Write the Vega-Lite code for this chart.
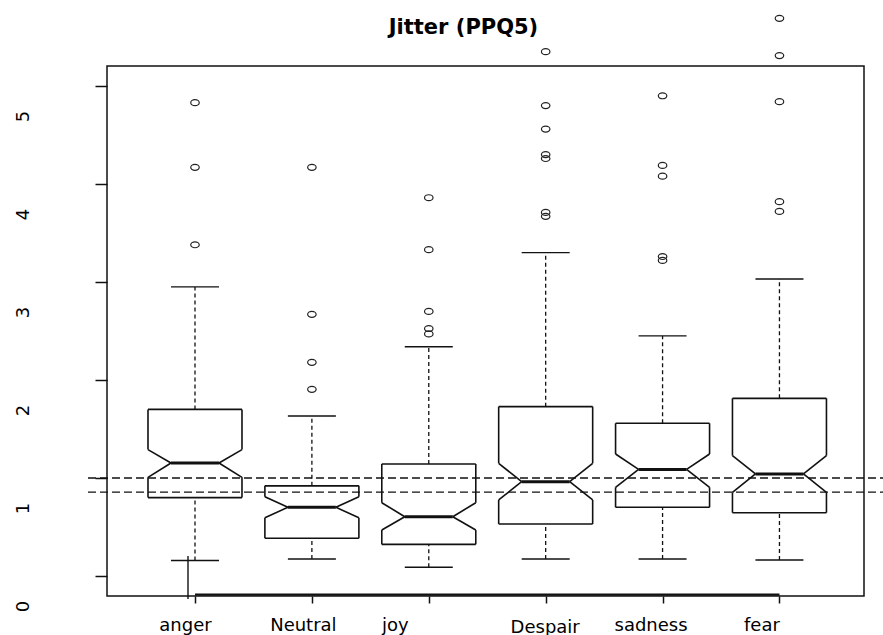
{
  "$schema": "https://vega.github.io/schema/vega-lite/v6.json",
  "width": 757,
  "height": 530,
  "autosize": {"type": "none"},
  "padding": {"left": 107, "top": 66, "right": 19, "bottom": 39},
  "background": "white",
  "config": {
    "font": "DejaVu Sans",
    "view": {"stroke": "#111111", "strokeWidth": 1.5},
    "rule": {"color": "#111111", "strokeWidth": 1.6}
  },
  "title": {
    "text": "Jitter (PPQ5)",
    "font": "DejaVu Sans",
    "fontSize": 21,
    "fontWeight": "bold",
    "color": "#000000",
    "anchor": "middle",
    "dx": -22,
    "dy": 29
  },
  "datasets": {
    "stats": [
      {"emotion": "anger", "wlo": 0.158, "q1": 0.80, "nlo": 1.007, "med": 1.153, "nhi": 1.29, "q3": 1.70, "whi": 2.95},
      {"emotion": "Neutral", "wlo": 0.173, "q1": 0.385, "nlo": 0.595, "med": 0.701, "nhi": 0.809, "q3": 0.92, "whi": 1.633},
      {"emotion": "joy", "wlo": 0.089, "q1": 0.323, "nlo": 0.469, "med": 0.605, "nhi": 0.748, "q3": 1.143, "whi": 2.34},
      {"emotion": "Despair", "wlo": 0.173, "q1": 0.531, "nlo": 0.776, "med": 0.962, "nhi": 1.15, "q3": 1.728, "whi": 3.30},
      {"emotion": "sadness", "wlo": 0.173, "q1": 0.701, "nlo": 0.905, "med": 1.088, "nhi": 1.245, "q3": 1.558, "whi": 2.45},
      {"emotion": "fear", "wlo": 0.163, "q1": 0.646, "nlo": 0.854, "med": 1.041, "nhi": 1.228, "q3": 1.813, "whi": 3.03}
    ],
    "outliers": [
      {"emotion": "anger", "value": 4.83},
      {"emotion": "anger", "value": 4.17},
      {"emotion": "anger", "value": 3.38},
      {"emotion": "Neutral", "value": 4.17},
      {"emotion": "Neutral", "value": 2.67},
      {"emotion": "Neutral", "value": 2.18},
      {"emotion": "Neutral", "value": 1.905},
      {"emotion": "joy", "value": 3.86},
      {"emotion": "joy", "value": 3.33},
      {"emotion": "joy", "value": 2.70},
      {"emotion": "joy", "value": 2.525},
      {"emotion": "joy", "value": 2.47},
      {"emotion": "Despair", "value": 5.35},
      {"emotion": "Despair", "value": 4.80},
      {"emotion": "Despair", "value": 4.56},
      {"emotion": "Despair", "value": 4.30},
      {"emotion": "Despair", "value": 4.26},
      {"emotion": "Despair", "value": 3.71},
      {"emotion": "Despair", "value": 3.67},
      {"emotion": "sadness", "value": 4.90},
      {"emotion": "sadness", "value": 4.19},
      {"emotion": "sadness", "value": 4.08},
      {"emotion": "sadness", "value": 3.26},
      {"emotion": "sadness", "value": 3.22},
      {"emotion": "fear", "value": 5.69},
      {"emotion": "fear", "value": 5.31},
      {"emotion": "fear", "value": 4.84},
      {"emotion": "fear", "value": 3.82},
      {"emotion": "fear", "value": 3.72}
    ],
    "refs": [
      {"level": 1.0},
      {"level": 0.855}
    ]
  },
  "encoding": {
    "x": {
      "field": "emotion",
      "type": "nominal",
      "sort": null,
      "scale": {
        "type": "point",
        "domain": ["anger", "Neutral", "joy", "Despair", "sadness", "fear"],
        "padding": 0.738,
        "align": 0.51
      },
      "axis": {
        "title": null,
        "domain": false,
        "grid": false,
        "labelAngle": 0,
        "ticks": true,
        "tickSize": 7,
        "tickWidth": 1.5,
        "tickColor": "#111111",
        "labelFont": "DejaVu Sans",
        "labelFontSize": 18,
        "labelColor": "#000000",
        "labelBaseline": "alphabetic",
        "labelAlign": "center",
        "labelPadding": {"condition": {"test": "datum.value === 'Despair'", "value": 29}, "value": 27},
        "labelOffset": {
          "condition": [
            {"test": "datum.value === 'anger'", "value": -10},
            {"test": "datum.value === 'Neutral'", "value": -9},
            {"test": "datum.value === 'joy'", "value": -34},
            {"test": "datum.value === 'Despair'", "value": -1},
            {"test": "datum.value === 'sadness'", "value": -12},
            {"test": "datum.value === 'fear'", "value": -18}
          ],
          "value": 0
        }
      }
    }
  },
  "layer": [
    {
      "data": {"name": "refs"},
      "mark": {"type": "rule", "strokeDash": [8, 4], "strokeWidth": 1.3, "xOffset": -107, "x2Offset": 104},
      "encoding": {
        "x": {"datum": "anger"},
        "x2": {"datum": "fear"},
        "y": {
          "field": "level",
          "type": "quantitative",
          "scale": {"domain": [-0.204, 5.204], "nice": false, "zero": false},
          "axis": {
            "title": null,
            "domain": false,
            "grid": false,
            "values": [0, 1, 2, 3, 4, 5],
            "format": "d",
            "tickSize": 12,
            "tickWidth": 1.5,
            "tickColor": "#111111",
            "labelAngle": 270,
            "labelAlign": "center",
            "labelBaseline": "alphabetic",
            "labelOffset": 30,
            "labelPadding": 67,
            "labelFont": "DejaVu Sans",
            "labelFontSize": 18,
            "labelColor": "#000000",
            "labelFlush": false,
            "labelOverlap": false
          }
        }
      }
    },
    {
      "data": {"name": "stats"},
      "mark": {"type": "rule", "xOffset": -47, "x2Offset": 47},
      "encoding": {
        "x2": {"field": "emotion"},
        "y": {"field": "q3", "type": "quantitative", "scale": {"domain": [-0.204, 5.204], "nice": false, "zero": false}}
      }
    },
    {
      "data": {"name": "stats"},
      "mark": {"type": "rule", "xOffset": -47, "x2Offset": 47},
      "encoding": {
        "x2": {"field": "emotion"},
        "y": {"field": "q1", "type": "quantitative", "scale": {"domain": [-0.204, 5.204], "nice": false, "zero": false}}
      }
    },
    {
      "data": {"name": "stats"},
      "mark": {"type": "rule", "xOffset": -47},
      "encoding": {
        "y": {"field": "q3", "type": "quantitative", "scale": {"domain": [-0.204, 5.204], "nice": false, "zero": false}},
        "y2": {"field": "nhi"}
      }
    },
    {
      "data": {"name": "stats"},
      "mark": {"type": "rule", "xOffset": 47},
      "encoding": {
        "y": {"field": "q3", "type": "quantitative", "scale": {"domain": [-0.204, 5.204], "nice": false, "zero": false}},
        "y2": {"field": "nhi"}
      }
    },
    {
      "data": {"name": "stats"},
      "mark": {"type": "rule", "xOffset": -47},
      "encoding": {
        "y": {"field": "nlo", "type": "quantitative", "scale": {"domain": [-0.204, 5.204], "nice": false, "zero": false}},
        "y2": {"field": "q1"}
      }
    },
    {
      "data": {"name": "stats"},
      "mark": {"type": "rule", "xOffset": 47},
      "encoding": {
        "y": {"field": "nlo", "type": "quantitative", "scale": {"domain": [-0.204, 5.204], "nice": false, "zero": false}},
        "y2": {"field": "q1"}
      }
    },
    {
      "data": {"name": "stats"},
      "mark": {"type": "rule", "xOffset": -47, "x2Offset": -24},
      "encoding": {
        "x2": {"field": "emotion"},
        "y": {"field": "nhi", "type": "quantitative", "scale": {"domain": [-0.204, 5.204], "nice": false, "zero": false}},
        "y2": {"field": "med"}
      }
    },
    {
      "data": {"name": "stats"},
      "mark": {"type": "rule", "xOffset": 47, "x2Offset": 24},
      "encoding": {
        "x2": {"field": "emotion"},
        "y": {"field": "nhi", "type": "quantitative", "scale": {"domain": [-0.204, 5.204], "nice": false, "zero": false}},
        "y2": {"field": "med"}
      }
    },
    {
      "data": {"name": "stats"},
      "mark": {"type": "rule", "xOffset": -24, "x2Offset": -47},
      "encoding": {
        "x2": {"field": "emotion"},
        "y": {"field": "med", "type": "quantitative", "scale": {"domain": [-0.204, 5.204], "nice": false, "zero": false}},
        "y2": {"field": "nlo"}
      }
    },
    {
      "data": {"name": "stats"},
      "mark": {"type": "rule", "xOffset": 24, "x2Offset": 47},
      "encoding": {
        "x2": {"field": "emotion"},
        "y": {"field": "med", "type": "quantitative", "scale": {"domain": [-0.204, 5.204], "nice": false, "zero": false}},
        "y2": {"field": "nlo"}
      }
    },
    {
      "data": {"name": "stats"},
      "mark": {"type": "rule", "xOffset": -24, "x2Offset": 24, "strokeWidth": 3},
      "encoding": {
        "x2": {"field": "emotion"},
        "y": {"field": "med", "type": "quantitative", "scale": {"domain": [-0.204, 5.204], "nice": false, "zero": false}}
      }
    },
    {
      "data": {"name": "stats"},
      "mark": {"type": "rule", "strokeDash": [4, 3], "strokeWidth": 1.3},
      "encoding": {
        "y": {"field": "q3", "type": "quantitative", "scale": {"domain": [-0.204, 5.204], "nice": false, "zero": false}},
        "y2": {"field": "whi"}
      }
    },
    {
      "data": {"name": "stats"},
      "mark": {"type": "rule", "strokeDash": [4, 3], "strokeWidth": 1.3},
      "encoding": {
        "y": {"field": "wlo", "type": "quantitative", "scale": {"domain": [-0.204, 5.204], "nice": false, "zero": false}},
        "y2": {"field": "q1"}
      }
    },
    {
      "data": {"name": "stats"},
      "mark": {"type": "rule", "xOffset": -24, "x2Offset": 24, "strokeWidth": 1.4},
      "encoding": {
        "x2": {"field": "emotion"},
        "y": {"field": "whi", "type": "quantitative", "scale": {"domain": [-0.204, 5.204], "nice": false, "zero": false}}
      }
    },
    {
      "data": {"name": "stats"},
      "mark": {"type": "rule", "xOffset": -24, "x2Offset": 24, "strokeWidth": 1.4},
      "encoding": {
        "x2": {"field": "emotion"},
        "y": {"field": "wlo", "type": "quantitative", "scale": {"domain": [-0.204, 5.204], "nice": false, "zero": false}}
      }
    },
    {
      "data": {"name": "outliers"},
      "mark": {
        "type": "point",
        "shape": "M-1,0A1,0.7,0,1,1,1,0A1,0.7,0,1,1,-1,0Z",
        "size": 72,
        "filled": false,
        "stroke": "#222222",
        "strokeWidth": 1.2,
        "opacity": 1
      },
      "encoding": {
        "y": {"field": "value", "type": "quantitative", "scale": {"domain": [-0.204, 5.204], "nice": false, "zero": false}}
      }
    },
    {
      "data": {"values": [{}]},
      "mark": {"type": "rule", "strokeWidth": 2.2},
      "encoding": {
        "x": {"datum": "anger"},
        "x2": {"datum": "fear"},
        "y": {"datum": -0.19, "type": "quantitative", "scale": {"domain": [-0.204, 5.204], "nice": false, "zero": false}}
      }
    },
    {
      "data": {"values": [{}]},
      "mark": {"type": "rule", "strokeWidth": 1.4, "xOffset": -7},
      "encoding": {
        "x": {"datum": "anger"},
        "y": {"datum": 0.205, "type": "quantitative", "scale": {"domain": [-0.204, 5.204], "nice": false, "zero": false}},
        "y2": {"datum": -0.235}
      }
    }
  ]
}
